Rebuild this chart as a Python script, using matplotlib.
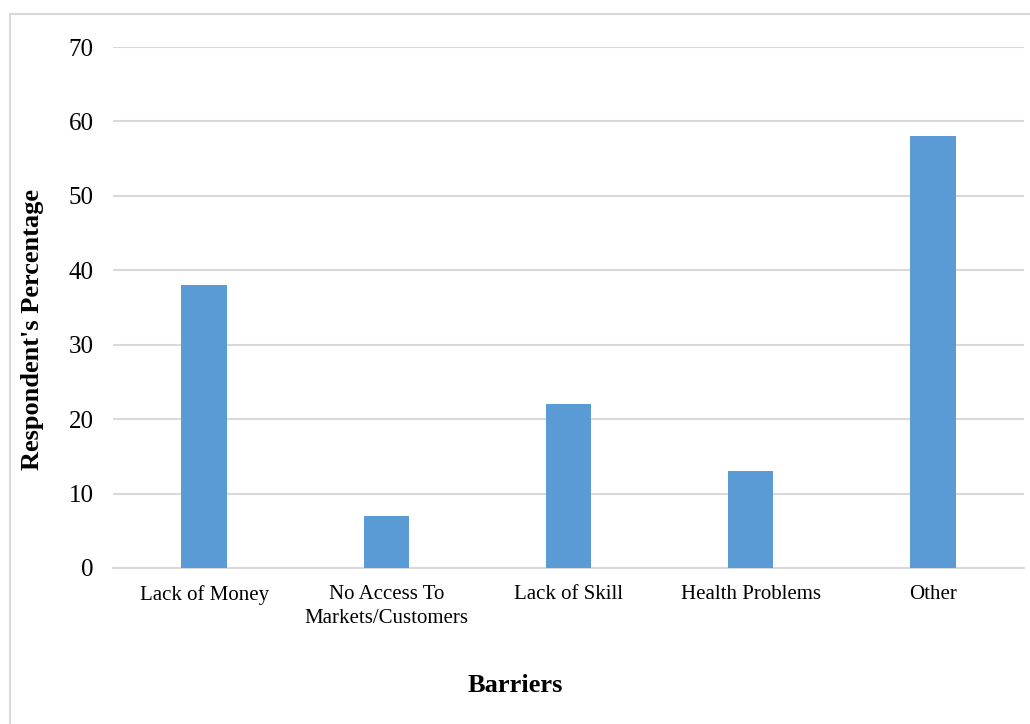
import matplotlib
matplotlib.use("Agg")
import matplotlib.pyplot as plt
from matplotlib.lines import Line2D

categories = ["Lack of Money", "No Access To\nMarkets/Customers", "Lack of Skill",
              "Health Problems", "Other"]
values = [38, 7, 22, 13, 58]
yticks = [0, 10, 20, 30, 40, 50, 60, 70]

plt.rcParams["font.family"] = ["Liberation Serif", "DejaVu Serif"]

W, H = 1030, 724
fig = plt.figure(figsize=(W / 100, H / 100), dpi=100)
ax = fig.add_axes([113 / W, 1 - 568 / H, (1024 - 113) / W, (568 - 47) / H])

x = list(range(len(categories)))
ax.bar(x, values, width=0.25, color="#5B9BD5", zorder=3)

ax.set_xlim(-0.5, len(categories) - 0.5)
ax.set_ylim(0, 70)
ax.set_yticks(yticks)
ax.set_xticks(x)
ax.set_xticklabels(categories, fontsize=15, linespacing=1.4)
ax.tick_params(axis="y", length=0, pad=14, labelsize=18)
ax.tick_params(axis="x", length=0, pad=12)
ax.grid(axis="y", color="#d9d9d9", linewidth=1.5, zorder=0)
for s in ["top", "right", "left"]:
    ax.spines[s].set_visible(False)
ax.spines["bottom"].set_color("#d9d9d9")
ax.spines["bottom"].set_linewidth(1.5)

fig.text(515 / W, 1 - 685 / H, "Barriers", ha="center", va="center",
         fontsize=19, fontweight="bold")
fig.text(33 / W, 1 - 329 / H, "Respondent's Percentage", ha="center", va="center",
         rotation=90, fontsize=19, fontweight="bold")

# outer frame (top and left edges)
fig.add_artist(Line2D([9.5 / W, 1.0], [1 - 13.5 / H, 1 - 13.5 / H],
                      transform=fig.transFigure, color="#d9d9d9", linewidth=1.5))
fig.add_artist(Line2D([9.5 / W, 9.5 / W], [0, 1 - 13.5 / H],
                      transform=fig.transFigure, color="#d9d9d9", linewidth=1.5))

fig.savefig("out.png", dpi=100)
